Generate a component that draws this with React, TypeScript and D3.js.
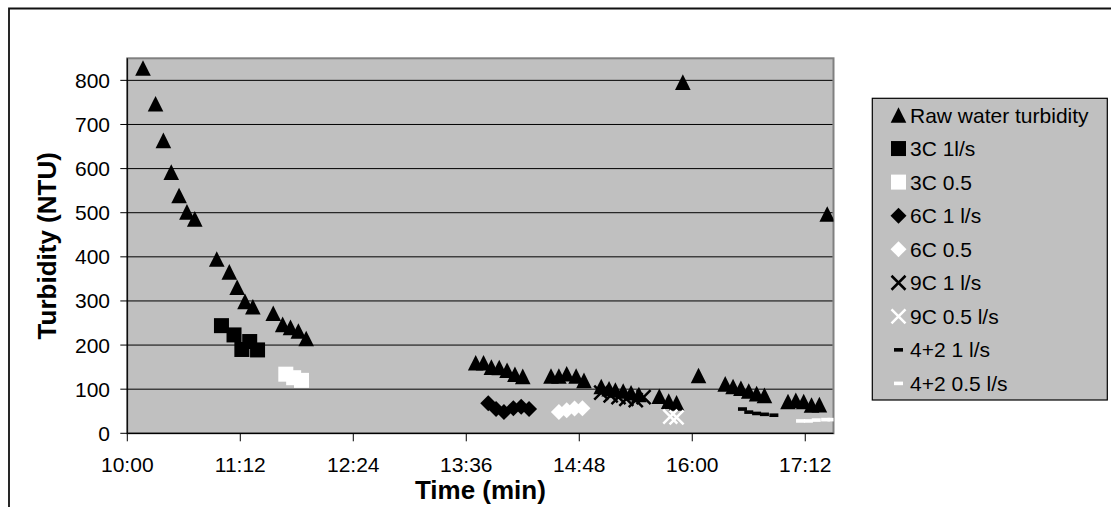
import React from "react";
import * as d3 from "d3";

// values (time of day, turbidity in NTU)
const rawTimes = ["10:10", "10:18", "10:23", "10:28", "10:33", "10:38", "10:43", "10:57", "11:05", "11:10", "11:15", "11:20", "11:33", "11:39", "11:44", "11:49", "11:54", "13:42", "13:47", "13:52", "13:57", "14:02", "14:07", "14:12", "14:30", "14:35", "14:40", "14:46", "14:51", "15:02", "15:07", "15:11", "15:16", "15:21", "15:26", "15:39", "15:45", "15:50", "15:54", "16:04", "16:21", "16:26", "16:31", "16:36", "16:41", "16:46", "17:01", "17:06", "17:11", "17:16", "17:21", "17:26"];
const rawValues = [828, 747, 664, 592, 539, 502, 486, 395, 366, 331, 299, 287, 272, 247, 240, 232, 215, 160, 160, 150, 149, 143, 134, 129, 130, 130, 135, 130, 120, 106, 101, 98, 96, 92, 88, 84, 73, 69, 796, 131, 112, 106, 102, 96, 90, 86, 72, 75, 72, 64, 65, 497];

const c3fTimes = ["11:00", "11:08", "11:13", "11:18", "11:23"];
const c3fValues = [244, 223, 190, 208, 189];
const c3sTimes = ["11:41", "11:46", "11:51"];
const c3sValues = [134, 126, 120];

const c6fTimes = ["13:50", "13:55", "14:00", "14:06", "14:11", "14:16"];
const c6fValues = [68, 55, 48, 57, 60, 55];
const c6sTimes = ["14:35", "14:40", "14:45", "14:50"];
const c6sValues = [48, 52, 56, 57];

const c9fTimes = ["15:02", "15:08", "15:13", "15:18", "15:24", "15:29"];
const c9fValues = [92, 86, 82, 78, 75, 82];
const c9sTimes = ["15:46", "15:50"];
const c9sValues = [38, 36];

const c42fTimes = ["16:32", "16:36", "16:41", "16:46", "16:52"];
const c42fValues = [55, 48, 45, 43, 41];
const c42sTimes = ["17:09", "17:14", "17:19", "17:25", "17:29"];
const c42sValues = [28, 28, 30, 31, 31];

const timeTicks = ["10:00", "11:12", "12:24", "13:36", "14:48", "16:00", "17:12"];
const valueTicks = [0, 100, 200, 300, 400, 500, 600, 700, 800];

type Shape = "triangle" | "square" | "diamond" | "cross" | "dash";

const seriesList = [
  { name: "Raw water turbidity", times: rawTimes, values: rawValues, shape: "triangle", color: "#000" },
  { name: "3C 1l/s", times: c3fTimes, values: c3fValues, shape: "square", color: "#000" },
  { name: "3C 0.5", times: c3sTimes, values: c3sValues, shape: "square", color: "#fff" },
  { name: "6C 1 l/s", times: c6fTimes, values: c6fValues, shape: "diamond", color: "#000" },
  { name: "6C 0.5", times: c6sTimes, values: c6sValues, shape: "diamond", color: "#fff" },
  { name: "9C 1 l/s", times: c9fTimes, values: c9fValues, shape: "cross", color: "#000" },
  { name: "9C 0.5 l/s", times: c9sTimes, values: c9sValues, shape: "cross", color: "#fff" },
  { name: "4+2 1 l/s", times: c42fTimes, values: c42fValues, shape: "dash", color: "#000" },
  { name: "4+2 0.5 l/s", times: c42sTimes, values: c42sValues, shape: "dash", color: "#fff" },
] as { name: string; times: string[]; values: number[]; shape: Shape; color: string }[];

const toMin = (t: string) => {
  const [h, m] = t.split(":").map(Number);
  return h * 60 + m;
};

const font = "'Liberation Sans', Arial, sans-serif";

const plot = { left: 127.3, right: 833.5, top: 58.3, bottom: 433.3 };

const x = d3.scaleLinear().domain([toMin("10:00"), toMin("17:30")]).range([plot.left, plot.right]);
const y = d3.scaleLinear().domain([0, 850]).range([plot.bottom, plot.top]);

function Marker({ shape, color, cx, cy }: { shape: Shape; color: string; cx: number; cy: number }) {
  if (shape === "triangle")
    return <path d={`M${cx},${cy - 7.8}L${cx + 7.8},${cy + 7.8}L${cx - 7.8},${cy + 7.8}Z`} fill={color} />;
  if (shape === "square") return <rect x={cx - 7.5} y={cy - 7.5} width={15} height={15} fill={color} />;
  if (shape === "diamond")
    return <path d={`M${cx},${cy - 8}L${cx + 8},${cy}L${cx},${cy + 8}L${cx - 8},${cy}Z`} fill={color} />;
  if (shape === "cross")
    return (
      <path
        d={`M${cx - 7},${cy - 7}L${cx + 7},${cy + 7}M${cx + 7},${cy - 7}L${cx - 7},${cy + 7}`}
        stroke={color}
        strokeWidth={2.5}
        fill="none"
      />
    );
  return <rect x={cx - 4.5} y={cy - 1.8} width={9} height={3.6} fill={color} />;
}

export default function App() {
  const legendX = 872.3;
  const legendY = 98.3;
  return (
    <svg
      width={1111}
      height={507}
      style={{ position: "absolute", left: 0, top: 0, background: "#fff" }}
      fontFamily={font}
    >
      {/* chart frame, runs off the right and bottom */}
      <path d="M9,520 L9,8.5 L1120,8.5" fill="none" stroke="#111" strokeWidth={1.8} />

      <clipPath id="plotClip">
        <rect x={plot.left} y={plot.top} width={plot.right - plot.left} height={plot.bottom - plot.top} />
      </clipPath>

      <rect
        x={plot.left}
        y={plot.top}
        width={plot.right - plot.left}
        height={plot.bottom - plot.top}
        fill="#c0c0c0"
        stroke="#808080"
        strokeWidth={2}
      />

      {valueTicks
        .filter((v) => v > 0)
        .map((v) => (
          <line key={v} x1={plot.left} x2={plot.right - 1} y1={y(v)} y2={y(v)} stroke="#000" strokeWidth={1} />
        ))}

      <g clipPath="url(#plotClip)">
        {seriesList.map((s) => (
          <g key={s.name}>
            {s.times.map((t, i) => (
              <Marker key={i} shape={s.shape} color={s.color} cx={x(toMin(t))} cy={y(s.values[i])} />
            ))}
          </g>
        ))}
      </g>

      {/* axes */}
      <line x1={plot.left} x2={plot.left} y1={plot.top} y2={plot.bottom} stroke="#000" strokeWidth={1.2} />
      <line x1={plot.left} x2={plot.right} y1={plot.bottom} y2={plot.bottom} stroke="#000" strokeWidth={1.2} />

      {valueTicks.map((v) => (
        <g key={v}>
          <line x1={plot.left - 7} x2={plot.left} y1={y(v)} y2={y(v)} stroke="#000" />
          <text x={110} y={y(v) + 7.5} textAnchor="end" fontSize={21} fill="#000">
            {v}
          </text>
        </g>
      ))}

      {timeTicks.map((t) => (
        <g key={t}>
          <line x1={x(toMin(t))} x2={x(toMin(t))} y1={plot.bottom} y2={plot.bottom + 8} stroke="#000" />
          <text x={x(toMin(t))} y={471.5} textAnchor="middle" fontSize={21} fill="#000">
            {t}
          </text>
        </g>
      ))}

      <text x={(plot.left + plot.right) / 2} y={499} textAnchor="middle" fontSize={26} fontWeight="bold">
        Time (min)
      </text>
      <text
        transform={`translate(55.5,${(plot.top + plot.bottom) / 2}) rotate(-90)`}
        textAnchor="middle"
        fontSize={26}
        fontWeight="bold"
      >
        Turbidity (NTU)
      </text>

      {/* legend */}
      <rect x={legendX} y={legendY} width={235} height={301.7} fill="#c0c0c0" stroke="#000" strokeWidth={1.2} />
      {seriesList.map((s, i) => {
        const cy = 115 + i * 33.55;
        return (
          <g key={s.name}>
            <Marker shape={s.shape} color={s.color} cx={898.5} cy={cy} />
            <text x={910} y={cy + 7.5} fontSize={21} fill="#000">
              {s.name}
            </text>
          </g>
        );
      })}
    </svg>
  );
}
